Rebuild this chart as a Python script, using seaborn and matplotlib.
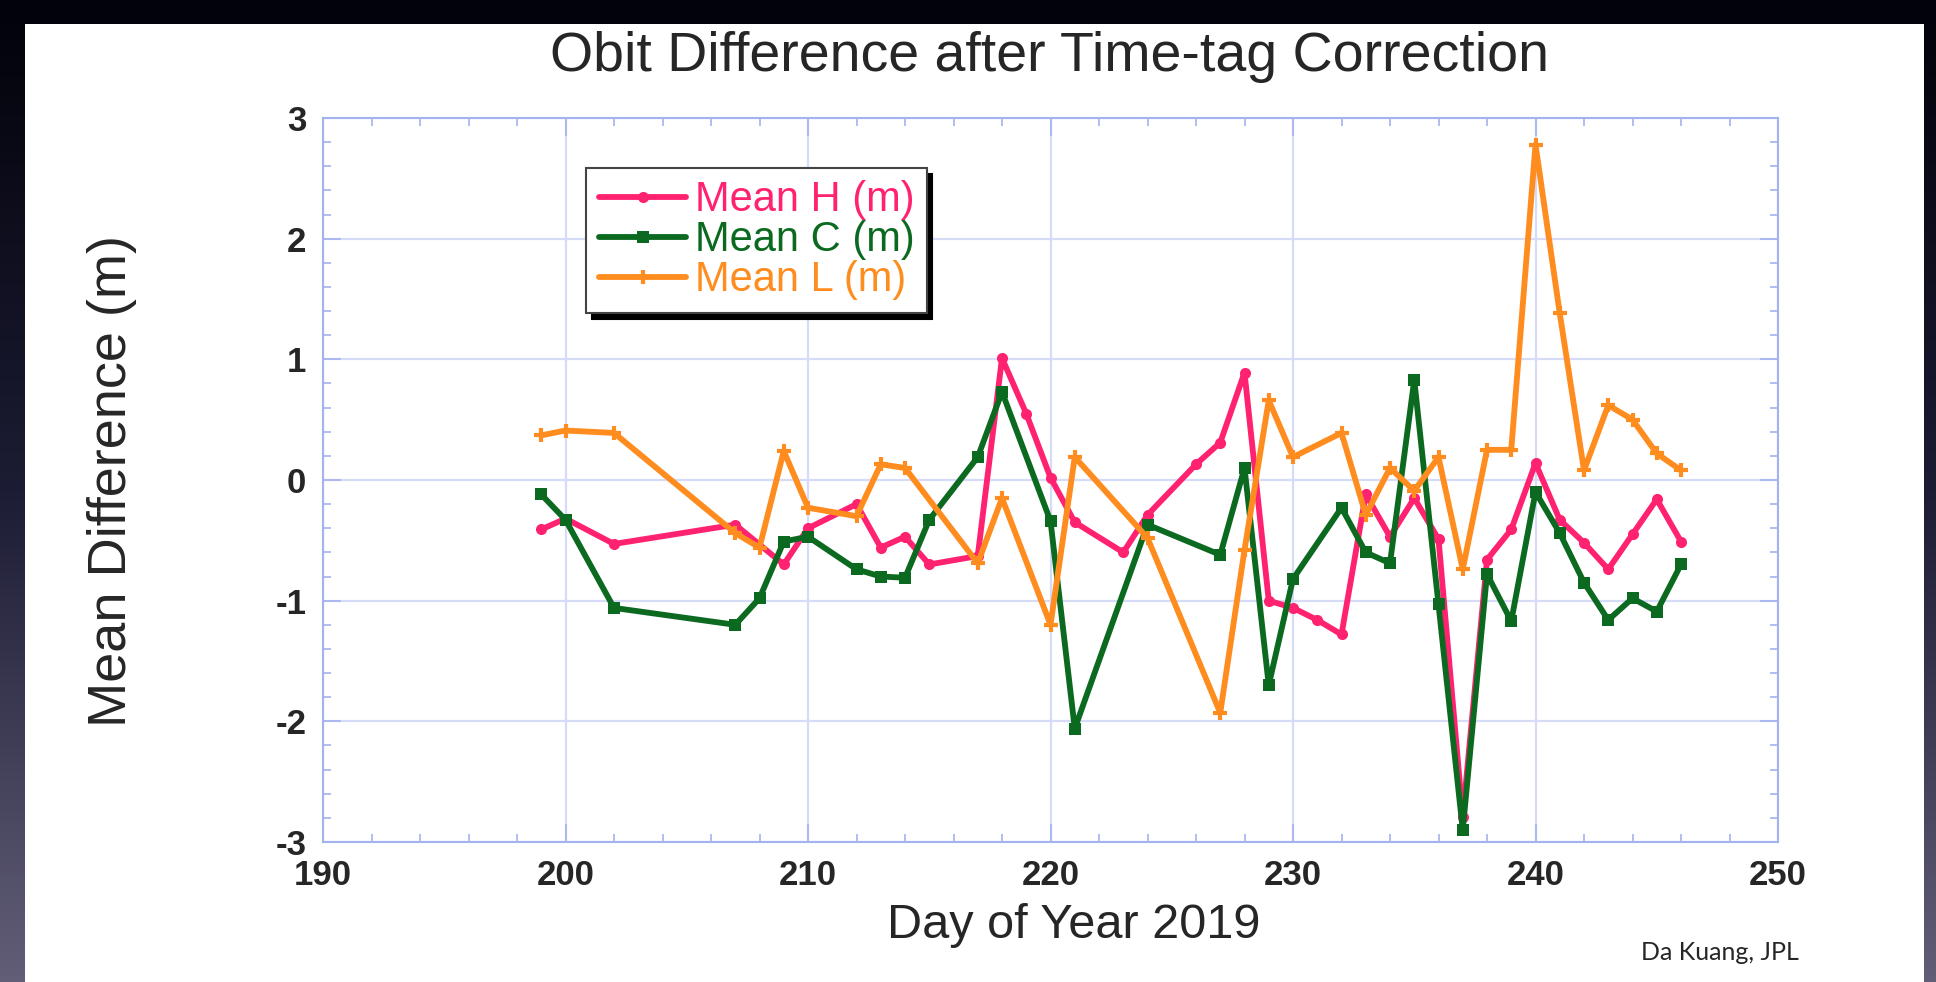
import numpy as np
import matplotlib
matplotlib.use("Agg")
import matplotlib.pyplot as plt
import seaborn as sns
from matplotlib.ticker import MultipleLocator
from matplotlib.patches import Rectangle

# day of year 2019 and mean differences (m)
h_days = [199, 200, 202, 207, 209, 210, 212, 213, 214, 215, 217, 218, 219, 220, 221, 223,
          224, 226, 227, 228, 229, 230, 231, 232, 233, 234, 235, 236, 237, 238, 239, 240,
          241, 242, 243, 244, 245, 246]
h_vals = [-0.41, -0.32, -0.53, -0.37, -0.70, -0.40, -0.20, -0.56, -0.47, -0.70, -0.63, 1.01,
          0.55, 0.02, -0.35, -0.60, -0.29, 0.13, 0.31, 0.89, -1.00, -1.06, -1.16, -1.28,
          -0.12, -0.47, -0.15, -0.49, -2.79, -0.66, -0.41, 0.14, -0.33, -0.52, -0.74, -0.45,
          -0.16, -0.51]

c_days = [199, 200, 202, 207, 208, 209, 210, 212, 213, 214, 215, 217, 218, 220, 221, 224,
          227, 228, 229, 230, 232, 233, 234, 235, 236, 237, 238, 239, 240, 241, 242, 243,
          244, 245, 246]
c_vals = [-0.12, -0.33, -1.06, -1.20, -0.98, -0.51, -0.47, -0.74, -0.80, -0.81, -0.33, 0.19,
          0.73, -0.34, -2.06, -0.37, -0.62, 0.10, -1.70, -0.82, -0.23, -0.60, -0.69, 0.83,
          -1.03, -2.90, -0.78, -1.17, -0.10, -0.44, -0.85, -1.16, -0.98, -1.09, -0.70]

l_days = [199, 200, 202, 207, 208, 209, 210, 212, 213, 214, 217, 218, 220, 221, 224, 227,
          228, 229, 230, 232, 233, 234, 235, 236, 237, 238, 239, 240, 241, 242, 243, 244,
          245, 246]
l_vals = [0.37, 0.41, 0.39, -0.44, -0.56, 0.24, -0.23, -0.30, 0.13, 0.10, -0.69, -0.15,
          -1.20, 0.19, -0.48, -1.93, -0.58, 0.66, 0.19, 0.39, -0.29, 0.10, -0.09, 0.19,
          -0.74, 0.25, 0.25, 2.78, 1.38, 0.08, 0.62, 0.50, 0.22, 0.08]

pink = "#ff2270"
green = "#0b6a20"
orange = "#ff8c1e"
gridblue = "#d6dcf8"
axblue = "#a4b2f0"

sns.set_style("white")
plt.rcParams['font.family'] = ['Liberation Sans', 'DejaVu Sans']
plt.rcParams['axes.unicode_minus'] = False

fig = plt.figure(figsize=(19.36, 9.82), dpi=100)
fig.patch.set_facecolor("white")

# dark slide border
grad = np.linspace(0, 1, 256).reshape(-1, 1)
for x0, w in [(0, 25 / 1936), (1924 / 1936, 12 / 1936)]:
    bax = fig.add_axes([x0, 0, w, 1])
    bax.imshow(grad, aspect="auto", cmap=matplotlib.colors.LinearSegmentedColormap.from_list(
        "slide", ["#02020a", "#1c1c34", "#625e78"]), extent=[0, 1, 0, 1])
    bax.axis("off")
fig.patches.append(Rectangle((0, 1 - 24 / 982), 1, 24 / 982, transform=fig.transFigure,
                             facecolor="#02020a", edgecolor="none", zorder=0))

ax = fig.add_axes([323 / 1936, 140 / 982, 1455 / 1936, 724 / 982])

sns.lineplot(x=h_days, y=h_vals, color=pink, marker="o", markersize=8, mec=pink, mew=0,
             linewidth=4.2, label="Mean H (m)", legend=False, errorbar=None, ax=ax)
sns.lineplot(x=c_days, y=c_vals, color=green, marker="s", markersize=8, mec=green, mew=0,
             linewidth=4.2, label="Mean C (m)", legend=False, errorbar=None, ax=ax)
sns.lineplot(x=l_days, y=l_vals, color=orange, marker="+", markersize=10, mec=orange, mew=3,
             linewidth=4.2, label="Mean L (m)", legend=False, errorbar=None, ax=ax)

ax.set_xlim(190, 250)
ax.set_ylim(-3, 3)
ax.xaxis.set_major_locator(MultipleLocator(10))
ax.xaxis.set_minor_locator(MultipleLocator(2))
ax.yaxis.set_major_locator(MultipleLocator(1))
ax.yaxis.set_minor_locator(MultipleLocator(0.2))
ax.grid(True, which="major", color=gridblue, linewidth=1.6)
ax.set_axisbelow(True)
for s in ax.spines.values():
    s.set_color(axblue)
    s.set_linewidth(1.5)
ax.tick_params(which="both", direction="in", top=True, right=True, bottom=True, left=True,
               color=axblue, width=1.2)
ax.tick_params(which="major", length=13, labelsize=25, pad=12)
ax.tick_params(which="minor", length=6)
for t in ax.get_xticklabels() + ax.get_yticklabels():
    t.set_fontweight("bold")
ax.set_xlabel("")
ax.set_ylabel("")

leg = ax.legend(loc="upper left", bbox_to_anchor=(0.181, 0.931), borderaxespad=0,
                fontsize=30, labelcolor="linecolor", handlelength=2.1, handletextpad=0.2,
                labelspacing=0.0, borderpad=0.3, fancybox=False, framealpha=1,
                edgecolor="#444444",
                shadow={"color": "black", "alpha": 1, "ox": 4, "oy": -4})
leg.get_frame().set_linewidth(1.5)

fig.text(1050 / 1936, 1 - 57 / 982, "Obit Difference after Time-tag Correction",
         fontsize=40, ha="center", va="center")
fig.text(112 / 1936, 1 - 481 / 982, "Mean Difference (m)", fontsize=39, rotation=90,
         ha="center", va="center")
fig.text(1074 / 1936, 1 - 926 / 982, "Day of Year 2019", fontsize=35, ha="center", va="center")
fig.text(1720 / 1936, 1 - 952 / 982, "Da Kuang, JPL", fontsize=18, ha="center", va="center",
         family=["Lato", "DejaVu Sans"])

fig.savefig("out.png", dpi=100)
